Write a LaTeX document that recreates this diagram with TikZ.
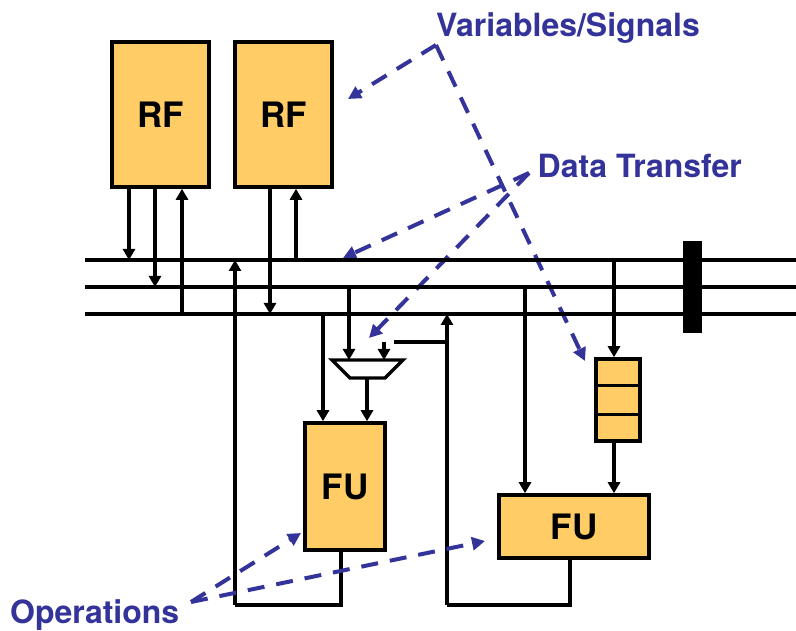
\documentclass[tikz,border=0pt]{standalone}
\usepackage{fontspec}
\setmainfont{TeX Gyre Heros}
\usetikzlibrary{arrows.meta,calc}
\definecolor{boxfill}{HTML}{FFCC66}
\definecolor{notecol}{HTML}{333399}
\tikzset{
  unitbox/.style={draw=black,fill=boxfill,line width=3.6pt,inner sep=0pt,font=\fontsize{35}{37}\selectfont\bfseries},
  wire/.style={draw=black,line width=3.4pt},
  arrowwire/.style={wire,-{Triangle[length=11pt,width=12pt]}},
  bus/.style={draw=black,line width=4pt},
  note/.style={text=notecol,inner sep=0pt,font=\fontsize{32}{34}\selectfont\bfseries},
  pointer/.style={draw=notecol,line width=4pt,dash pattern=on 17pt off 12pt,-{Triangle[length=13pt,width=13pt]}}
}
\begin{document}
\begin{tikzpicture}[x=1pt,y=-1pt]
\useasboundingbox (0,0) rectangle (796,631);
% bus ends
\coordinate (busAw) at (85,260); \coordinate (busAe) at (796,260);
\coordinate (busBw) at (85,287); \coordinate (busBe) at (796,287);
\coordinate (busCw) at (85,314); \coordinate (busCe) at (796,314);
% boxes
\node[unitbox,minimum width=97pt,minimum height=145pt] (rfa) at (160.5,114.5) {\raisebox{-1pt}{RF}};
\node[unitbox,minimum width=97pt,minimum height=145pt] (rfb) at (283.5,114.5) {\raisebox{-1pt}{RF}};
\node[unitbox,minimum width=80pt,minimum height=127pt] (fua) at (345,486.5) {\raisebox{-2pt}{FU}};
\node[unitbox,minimum width=150pt,minimum height=63pt] (fub) at (574,526.5) {\raisebox{-2pt}{FU}};
\node[unitbox,minimum width=44pt,minimum height=82pt] (reg) at (618,400) {};
\draw[wire] ($(reg.north west)!1/3!(reg.south west)$) -- ($(reg.north east)!1/3!(reg.south east)$);
\draw[wire] ($(reg.north west)!2/3!(reg.south west)$) -- ($(reg.north east)!2/3!(reg.south east)$);
% multiplexer
\coordinate (muxtl) at (332,360); \coordinate (muxtr) at (403,360);
\coordinate (muxbr) at (385,378); \coordinate (muxbl) at (350,378);
\draw[wire,line join=miter] (muxtl) -- (muxtr) -- (muxbr) -- (muxbl) -- cycle;
% register file connections
\draw[arrowwire] (129,0 |- rfa.south) -- (129,0 |- busAw);
\draw[arrowwire] (155,0 |- rfa.south) -- (155,0 |- busBw);
\draw[arrowwire] (182,0 |- busCw) -- (182,0 |- rfa.south);
\draw[arrowwire] (270,0 |- rfb.south) -- (270,0 |- busCw);
\draw[arrowwire] (296,0 |- busAw) -- (296,0 |- rfb.south);
% FU a
\draw[arrowwire] (323,0 |- busCw) -- (323,0 |- fua.north);
\draw[arrowwire] (349,0 |- busBw) -- (349,0 |- muxtl);
\draw[arrowwire] (367,0 |- muxbl) -- (367,0 |- fua.north);
\coordinate (muxfb) at (384,342);
\coordinate (fbend) at (446,342);
\coordinate (fbstart) at (394,342);
\draw[arrowwire] (muxfb) -- (muxfb |- muxtl);
\draw[wire] (fbstart) -- (fbend);
\coordinate (retA) at (341,605);
\coordinate (retAl) at (235,605);
\draw[wire,line join=miter] (retA |- fua.south) -- (retA) -- (retAl);
\draw[arrowwire] (retAl) -- (retAl |- busAw);
% FU b
\coordinate (retB) at (570,605);
\coordinate (retBl) at (447,605);
\draw[wire,line join=miter] (retB |- fub.south) -- (retB) -- (retBl);
\draw[arrowwire] (retBl) -- (retBl |- busCw);
\draw[arrowwire] (525,0 |- busBw) -- (525,0 |- fub.north);
\draw[arrowwire] (614,0 |- busAw) -- (614,0 |- reg.north);
\draw[arrowwire] (614,0 |- reg.south) -- (614,0 |- fub.north);
% notes
\node[note,anchor=west] (vars) at (436,28) {Variables/Signals};
\node[note,anchor=west] (xfer) at (537.5,166) {Data Transfer};
\node[note,anchor=west] (ops) at (10,615) {Operations};
\coordinate (varsrc) at (436,45);
\coordinate (xfersrc) at (529,173);
\coordinate (opsrc) at (191,602);
\coordinate (rfbnote) at (348,99);
\coordinate (regnote) at (585,361);
\coordinate (busnote) at (343,258);
\coordinate (muxnote) at (369,338);
\coordinate (fuanote) at (301,533);
\coordinate (fubnote) at (485,541);
\draw[pointer] (varsrc) -- (rfbnote);
\draw[pointer] (varsrc) -- (regnote);
\draw[pointer] (xfersrc) -- (busnote);
\draw[pointer] (xfersrc) -- (muxnote);
\draw[pointer] (opsrc) -- (fuanote);
\draw[pointer] (opsrc) -- (fubnote);
% buses
\draw[bus] (busAw) -- (busAe);
\draw[bus] (busBw) -- (busBe);
\draw[bus] (busCw) -- (busCe);
\node[fill=black,minimum width=19pt,minimum height=92pt,inner sep=0pt] (bar) at (692.5,287) {};
\end{tikzpicture}
\end{document}
